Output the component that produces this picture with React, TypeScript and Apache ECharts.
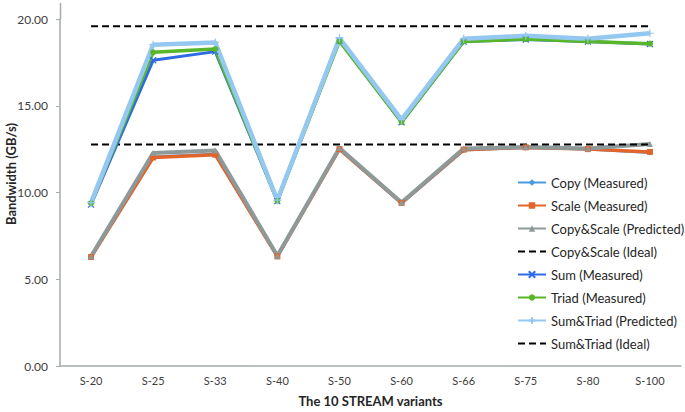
import React, { useEffect, useRef } from "react";
import * as echarts from "echarts";

const categories = ["S-20", "S-25", "S-33", "S-40", "S-50", "S-60", "S-66", "S-75", "S-80", "S-100"];
const copyMeasured = [6.28, 12.05, 12.2, 6.3, 12.5, 9.38, 12.45, 12.6, 12.5, 12.3];
const scaleMeasured = [6.28, 12.02, 12.18, 6.32, 12.5, 9.4, 12.47, 12.6, 12.5, 12.34];
const copyScalePredicted = [6.32, 12.28, 12.42, 6.36, 12.57, 9.42, 12.53, 12.62, 12.53, 12.79];
const copyScaleIdeal = [12.76, 12.76, 12.76, 12.76, 12.76, 12.76, 12.76, 12.76, 12.76, 12.76];
const sumMeasured = [9.3, 17.62, 18.12, 9.5, 18.75, 14.05, 18.7, 18.82, 18.7, 18.56];
const triadMeasured = [9.38, 18.08, 18.27, 9.52, 18.72, 14.07, 18.71, 18.84, 18.71, 18.58];
const sumTriadPredicted = [9.42, 18.52, 18.65, 9.56, 18.9, 14.2, 18.86, 19.03, 18.86, 19.18];
const sumTriadIdeal = [19.58, 19.58, 19.58, 19.58, 19.58, 19.58, 19.58, 19.58, 19.58, 19.58];
const yTicks = [0, 5, 10, 15, 20];
const legendNames = [
  "Copy (Measured)",
  "Scale (Measured)",
  "Copy&Scale (Predicted)",
  "Copy&Scale (Ideal)",
  "Sum (Measured)",
  "Triad (Measured)",
  "Sum&Triad (Predicted)",
  "Sum&Triad (Ideal)",
];

const FONT = "Lato, 'Open Sans', sans-serif";
const X_PATH = "path://M0,0L10,10M10,0L0,10";
const PLUS_PATH = "path://M5,0L5,10M0,5L10,5";

export default function App() {
  const ref = useRef<HTMLDivElement>(null);
  useEffect(() => {
    if (!ref.current) return;
    const chart = echarts.init(ref.current, undefined, { renderer: "svg" });
    const axisColor = "#a3abab";
    chart.setOption({
      animation: false,
      backgroundColor: "#ffffff",
      textStyle: { fontFamily: FONT },
      grid: { left: 60, right: 4, top: 19, bottom: 40, containLabel: false },
      graphic: [
        {
          type: "line",
          shape: { x1: 60.5, y1: 3, x2: 60.5, y2: 19 },
          style: { stroke: axisColor, lineWidth: 1.5 },
        },
        {
          type: "text",
          x: 11,
          y: 174,
          rotation: Math.PI / 2,
          style: {
            text: "Bandwidth (GB/s)",
            font: `bold 13px ${FONT}`,
            fill: "#262626",
            align: "center",
            verticalAlign: "middle",
          },
        },
      ],
      legend: {
        orient: "vertical",
        left: 512,
        top: 171,
        itemWidth: 28,
        itemHeight: 8,
        itemGap: 10,
        textStyle: { fontFamily: FONT, fontSize: 13, color: "#262626" },
        data: legendNames.map((n) =>
          n.includes("Ideal") ? { name: n, itemStyle: { opacity: 0 } } : { name: n }
        ),
      },
      xAxis: {
        type: "category",
        data: categories,
        boundaryGap: true,
        name: "The 10 STREAM variants",
        nameLocation: "middle",
        nameGap: 28,
        nameTextStyle: { fontFamily: FONT, fontSize: 13, fontWeight: "bold", color: "#262626" },
        axisLine: { lineStyle: { color: axisColor, width: 1.5 } },
        axisTick: { show: false },
        axisLabel: { color: "#404040", fontSize: 11, margin: 9 },
        splitLine: { show: false },
      },
      yAxis: {
        type: "value",
        min: 0,
        max: 20,
        interval: 5,
        axisLine: { show: true, lineStyle: { color: axisColor, width: 1.5 } },
        axisTick: { show: true, length: 4, lineStyle: { color: axisColor } },
        axisLabel: {
          color: "#404040",
          fontSize: 12,
          margin: 12,
          formatter: (v: number) => (yTicks.includes(v) ? v.toFixed(2) : ""),
        },
        splitLine: { show: false },
      },
      series: [
        {
          name: "Copy (Measured)",
          type: "line",
          data: copyMeasured,
          color: "#4a9be0",
          symbol: "diamond",
          symbolSize: 6,
          lineStyle: { width: 3 },
        },
        {
          name: "Scale (Measured)",
          type: "line",
          data: scaleMeasured,
          color: "#e2642b",
          symbol: "rect",
          symbolSize: 6,
          lineStyle: { width: 3.5 },
        },
        {
          name: "Copy&Scale (Predicted)",
          type: "line",
          data: copyScalePredicted,
          color: "#8e9999",
          symbol: "triangle",
          symbolSize: 6,
          lineStyle: { width: 4 },
        },
        {
          name: "Copy&Scale (Ideal)",
          type: "line",
          data: copyScaleIdeal,
          color: "#000000",
          symbol: "none",
          lineStyle: { width: 2, type: [7, 4] },
        },
        {
          name: "Sum (Measured)",
          type: "line",
          data: sumMeasured,
          color: "#2f6ae6",
          symbol: X_PATH,
          symbolSize: 6,
          itemStyle: { borderColor: "#2f6ae6", borderWidth: 1.2 },
          lineStyle: { width: 3 },
        },
        {
          name: "Triad (Measured)",
          type: "line",
          data: triadMeasured,
          color: "#58b62a",
          symbol: "circle",
          symbolSize: 6,
          lineStyle: { width: 3.5 },
        },
        {
          name: "Sum&Triad (Predicted)",
          type: "line",
          data: sumTriadPredicted,
          color: "#94c8f0",
          symbol: PLUS_PATH,
          symbolSize: 8,
          itemStyle: { borderColor: "#94c8f0", borderWidth: 1.2 },
          lineStyle: { width: 4.5 },
        },
        {
          name: "Sum&Triad (Ideal)",
          type: "line",
          data: sumTriadIdeal,
          color: "#000000",
          symbol: "none",
          lineStyle: { width: 2, type: [7, 4] },
        },
      ],
    });
    return () => chart.dispose();
  }, []);
  return <div ref={ref} style={{ width: 685, height: 412, position: "absolute", left: 0, top: 0 }} />;
}
